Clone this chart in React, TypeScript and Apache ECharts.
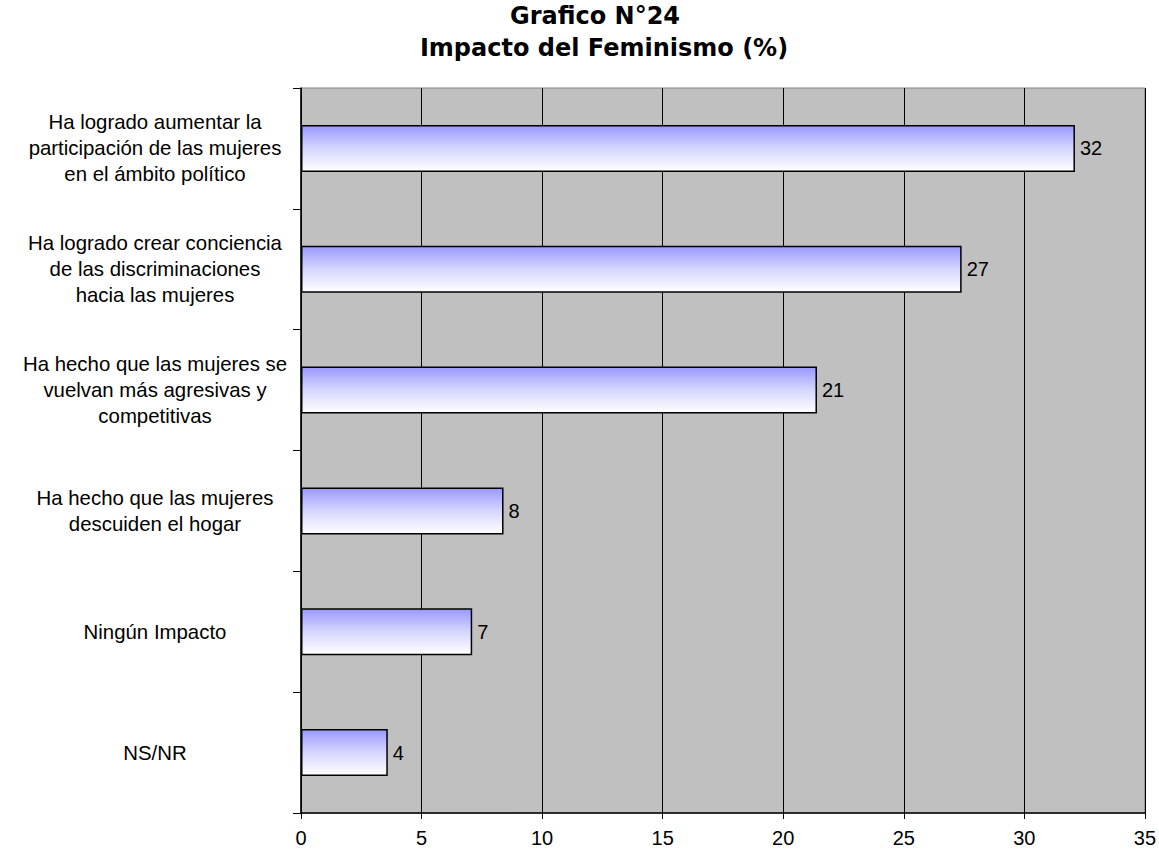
import React, { useEffect, useRef } from "react";
import * as echarts from "echarts";

const categories = [
  "Ha logrado aumentar la\nparticipación de las mujeres\nen el ámbito político",
  "Ha logrado crear conciencia\nde las discriminaciones\nhacia las mujeres",
  "Ha hecho que las mujeres se\nvuelvan más agresivas y\ncompetitivas",
  "Ha hecho que las mujeres\ndescuiden el hogar",
  "Ningún Impacto",
  "NS/NR",
];
const values = [32.1, 27.4, 21.4, 8.4, 7.1, 3.6];
const titleLine1 = "Grafico N°24";
const titleLine2 = "Impacto del Feminismo (%)";

const titleStyle = {
  fontFamily: "DejaVu Sans",
  fontWeight: "bold",
  fontSize: 24,
  lineHeight: 32,
  color: "#000",
};

export default function App() {
  const ref = useRef<HTMLDivElement>(null);
  useEffect(() => {
    if (!ref.current) return;
    const chart = echarts.init(ref.current, null, { renderer: "svg" });
    chart.setOption({
      animation: false,
      backgroundColor: "#ffffff",
      title: [
        { text: titleLine1, left: 595, top: 0, padding: 0, textAlign: "center", textStyle: titleStyle },
        { text: titleLine2, left: 604, top: 32, padding: 0, textAlign: "center", textStyle: titleStyle },
      ],
      grid: {
        left: 301,
        right: 12,
        top: 88,
        bottom: 46,
        show: true,
        backgroundColor: "#c0c0c0",
        borderColor: "#808080",
        borderWidth: 1,
      },
      xAxis: {
        type: "value",
        min: 0,
        max: 35,
        interval: 5,
        axisLine: { show: true, lineStyle: { color: "#000", width: 1.5 } },
        axisTick: { show: true, length: 6, lineStyle: { color: "#000" } },
        axisLabel: {
          fontFamily: "Liberation Sans",
          fontSize: 20,
          color: "#000",
          margin: 15,
        },
        splitLine: { show: true, lineStyle: { color: "#000", width: 1 } },
      },
      yAxis: {
        type: "category",
        data: categories,
        inverse: true,
        axisLine: { show: true, lineStyle: { color: "#000", width: 1.5 } },
        axisTick: { show: true, length: 8, lineStyle: { color: "#000" } },
        axisLabel: {
          fontFamily: "Liberation Sans",
          fontSize: 20.4,
          color: "#000",
          align: "center",
          margin: 146,
          lineHeight: 26,
        },
        splitLine: { show: false },
      },
      series: [
        {
          type: "bar",
          data: values,
          barWidth: 47,
          itemStyle: {
            color: new echarts.graphic.LinearGradient(0, 0, 0, 1, [
              { offset: 0, color: "#9999ff" },
              { offset: 0.5, color: "#d6d6ff" },
              { offset: 1, color: "#ffffff" },
            ]),
            borderColor: "#000",
            borderWidth: 1.5,
          },
          label: {
            show: true,
            position: "right",
            distance: 5,
            fontFamily: "Liberation Sans",
            fontSize: 20,
            color: "#000",
            formatter: (p: any) => String(Math.round(p.value)),
          },
        },
      ],
    });
    return () => chart.dispose();
  }, []);
  return <div ref={ref} style={{ width: 1159, height: 859, position: "absolute", left: 0, top: 0 }} />;
}
